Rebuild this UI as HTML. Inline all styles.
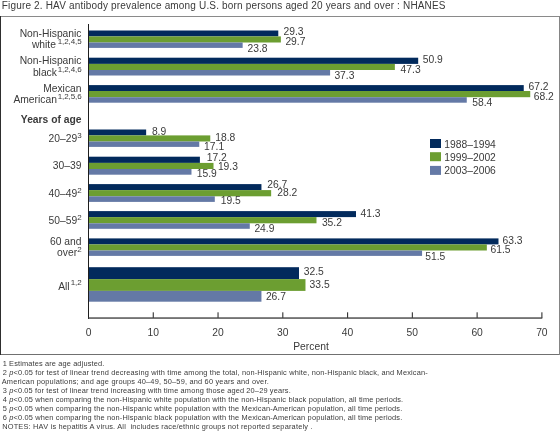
<!DOCTYPE html>
<html><head><meta charset="utf-8"><style>
html,body{margin:0;padding:0;background:#fff;}
svg{display:block;will-change:transform;}
svg text{font-family:"Liberation Sans",sans-serif;fill:#3a3a3a;}
</style></head><body>
<svg width="560" height="433" viewBox="0 0 560 433" font-size="10.3">
<rect width="560" height="433" fill="#fff"/>
<rect x="0" y="16" width="560" height="1" fill="#8a8a8a"/>
<rect x="0" y="354" width="560" height="1" fill="#707070"/>
<rect x="0" y="16" width="1" height="339" fill="#2e2e2e"/>
<rect x="559" y="16" width="1" height="339" fill="#858585"/>
<rect x="89" y="30.50" width="189.28" height="5.90" fill="#022a5c"/>
<rect x="89" y="36.40" width="191.87" height="6.10" fill="#6c9e31"/>
<rect x="89" y="42.50" width="153.65" height="5.40" fill="#6479a6"/>
<rect x="89" y="57.70" width="329.18" height="6.20" fill="#022a5c"/>
<rect x="89" y="63.90" width="305.86" height="6.10" fill="#6c9e31"/>
<rect x="89" y="70.00" width="241.09" height="5.50" fill="#6479a6"/>
<rect x="89" y="85.10" width="434.75" height="5.90" fill="#022a5c"/>
<rect x="89" y="91.00" width="441.23" height="6.20" fill="#6c9e31"/>
<rect x="89" y="97.20" width="377.76" height="5.50" fill="#6479a6"/>
<rect x="89" y="129.50" width="57.15" height="5.90" fill="#022a5c"/>
<rect x="89" y="135.40" width="121.27" height="6.10" fill="#6c9e31"/>
<rect x="89" y="141.50" width="110.26" height="5.40" fill="#6479a6"/>
<rect x="89" y="156.70" width="110.90" height="6.20" fill="#022a5c"/>
<rect x="89" y="162.90" width="124.51" height="6.10" fill="#6c9e31"/>
<rect x="89" y="169.00" width="102.48" height="5.70" fill="#6479a6"/>
<rect x="89" y="184.10" width="172.44" height="6.00" fill="#022a5c"/>
<rect x="89" y="190.10" width="182.15" height="6.20" fill="#6c9e31"/>
<rect x="89" y="196.30" width="125.80" height="5.60" fill="#6479a6"/>
<rect x="89" y="211.10" width="267.00" height="6.00" fill="#022a5c"/>
<rect x="89" y="217.10" width="227.49" height="6.20" fill="#6c9e31"/>
<rect x="89" y="223.30" width="160.78" height="5.50" fill="#6479a6"/>
<rect x="89" y="238.40" width="409.49" height="6.00" fill="#022a5c"/>
<rect x="89" y="244.40" width="397.84" height="6.10" fill="#6c9e31"/>
<rect x="89" y="250.50" width="333.07" height="5.40" fill="#6479a6"/>
<rect x="89" y="267.20" width="210.00" height="11.90" fill="#022a5c"/>
<rect x="89" y="279.10" width="216.48" height="11.80" fill="#6c9e31"/>
<rect x="89" y="290.90" width="172.44" height="10.80" fill="#6479a6"/>
<text x="283.50" y="34.80">29.3</text>
<text x="285.40" y="44.80">29.7</text>
<text x="247.50" y="51.60">23.8</text>
<text x="422.80" y="63.20">50.9</text>
<text x="400.60" y="72.70">47.3</text>
<text x="334.40" y="78.70">37.3</text>
<text x="528.50" y="89.50">67.2</text>
<text x="533.80" y="99.90">68.2</text>
<text x="472.20" y="106.30">58.4</text>
<text x="151.90" y="134.70">8.9</text>
<text x="215.30" y="140.60">18.8</text>
<text x="204.10" y="150.40">17.1</text>
<text x="206.70" y="161.20">17.2</text>
<text x="217.90" y="170.20">19.3</text>
<text x="196.70" y="176.80">15.9</text>
<text x="267.30" y="188.10">26.7</text>
<text x="277.30" y="196.00">28.2</text>
<text x="220.70" y="204.30">19.5</text>
<text x="360.50" y="217.30">41.3</text>
<text x="321.90" y="226.30">35.2</text>
<text x="254.40" y="231.60">24.9</text>
<text x="502.50" y="243.60">63.3</text>
<text x="490.50" y="253.20">61.5</text>
<text x="425.30" y="260.00">51.5</text>
<text x="303.70" y="275.40">32.5</text>
<text x="309.60" y="287.90">33.5</text>
<text x="265.90" y="299.50">26.7</text>
<rect x="88" y="24" width="1" height="295" fill="#1e1e1e"/>
<rect x="88" y="317.4" width="454.3" height="1.3" fill="#383838"/>
<rect x="152.72" y="312.3" width="1.1" height="5.6" fill="#333"/>
<rect x="217.49" y="312.3" width="1.1" height="5.6" fill="#333"/>
<rect x="282.26" y="312.3" width="1.1" height="5.6" fill="#333"/>
<rect x="347.03" y="312.3" width="1.1" height="5.6" fill="#333"/>
<rect x="411.80" y="312.3" width="1.1" height="5.6" fill="#333"/>
<rect x="476.57" y="312.3" width="1.1" height="5.6" fill="#333"/>
<rect x="541.34" y="312.3" width="1.1" height="5.6" fill="#333"/>
<text x="88.50" y="336" text-anchor="middle">0</text>
<text x="153.27" y="336" text-anchor="middle">10</text>
<text x="218.04" y="336" text-anchor="middle">20</text>
<text x="282.81" y="336" text-anchor="middle">30</text>
<text x="347.58" y="336" text-anchor="middle">40</text>
<text x="412.35" y="336" text-anchor="middle">50</text>
<text x="477.12" y="336" text-anchor="middle">60</text>
<text x="541.89" y="336" text-anchor="middle">70</text>
<text x="311" y="349.6" text-anchor="middle">Percent</text>
<text x="81.5" y="36.7" text-anchor="end">Non-Hispanic</text>
<text x="81.5" y="47.7" text-anchor="end">white<tspan font-size="8" dx="1.8" dy="-4.2" letter-spacing="-0.1">1,2,4,5</tspan></text>
<text x="81.5" y="64.1" text-anchor="end">Non-Hispanic</text>
<text x="81.5" y="75.7" text-anchor="end">black<tspan font-size="8" dx="0.8" dy="-4.2" letter-spacing="-0.1">1,2,4,6</tspan></text>
<text x="81.5" y="91.5" text-anchor="end">Mexican</text>
<text x="81.5" y="102.7" text-anchor="end">American<tspan font-size="8" dx="0.8" dy="-4.2" letter-spacing="-0.1">1,2,5,6</tspan></text>
<text x="81.5" y="142.0" text-anchor="end">20–29<tspan font-size="8" dx="0" dy="-4.2" letter-spacing="-0.1">3</tspan></text>
<text x="81.5" y="169.2" text-anchor="end">30–39</text>
<text x="81.5" y="196.8" text-anchor="end">40–49<tspan font-size="8" dx="0" dy="-4.2" letter-spacing="-0.1">2</tspan></text>
<text x="81.5" y="224.4" text-anchor="end">50–59<tspan font-size="8" dx="0" dy="-4.2" letter-spacing="-0.1">2</tspan></text>
<text x="81.5" y="244.9" text-anchor="end">60 and</text>
<text x="81.5" y="256.0" text-anchor="end">over<tspan font-size="8" dx="0" dy="-4.2" letter-spacing="-0.1">2</tspan></text>
<text x="81.5" y="289.5" text-anchor="end">All<tspan font-size="8" dx="1.0" dy="-4.2" letter-spacing="-0.1">1,2</tspan></text>
<text x="81.5" y="122.5" text-anchor="end" font-weight="bold">Years of age</text>
<rect x="430" y="139.00" width="11" height="9" fill="#022a5c"/>
<text x="444.3" y="147.7">1988–1994</text>
<rect x="430" y="152.20" width="11" height="9" fill="#6c9e31"/>
<text x="444.3" y="161.0">1999–2002</text>
<rect x="430" y="165.90" width="11" height="9" fill="#6479a6"/>
<text x="444.3" y="174.2">2003–2006</text>
<text x="1.8" y="9.4" font-size="10" letter-spacing="0.168">Figure 2. HAV antibody prevalence among U.S. born persons aged 20 years and over : NHANES</text>
<text x="2.7" y="365.5" font-size="7.4" xml:space="preserve" letter-spacing="0.1328">1 Estimates are age adjusted.</text>
<text x="2.7" y="374.5" font-size="7.4" xml:space="preserve" letter-spacing="0.1637">2 <tspan font-style='italic'>p</tspan>&lt;0.05 for test of linear trend decreasing with time among the total, non-Hispanic white, non-Hispanic black, and Mexican-</text>
<text x="1.7" y="383.5" font-size="7.4" xml:space="preserve" letter-spacing="0.1929">American populations; and age groups 40–49, 50–59, and 60 years and over.</text>
<text x="2.7" y="392.5" font-size="7.4" xml:space="preserve" letter-spacing="0.1459">3 <tspan font-style='italic'>p</tspan>&lt;0.05 for test of linear trend increasing with time among those aged 20–29 years.</text>
<text x="2.7" y="401.5" font-size="7.4" xml:space="preserve" letter-spacing="0.1588">4 <tspan font-style='italic'>p</tspan>&lt;0.05 when comparing the non-Hispanic white population with the non-Hispanic black population, all time periods.</text>
<text x="2.7" y="410.5" font-size="7.4" xml:space="preserve" letter-spacing="0.1648">5 <tspan font-style='italic'>p</tspan>&lt;0.05 when comparing the non-Hispanic white population with the Mexican-American population, all time periods.</text>
<text x="2.7" y="419.5" font-size="7.4" xml:space="preserve" letter-spacing="0.1648">6 <tspan font-style='italic'>p</tspan>&lt;0.05 when comparing the non-Hispanic black population with the Mexican-American population, all time periods.</text>
<text x="2.2" y="428.5" font-size="7.4" xml:space="preserve" letter-spacing="0.1903">NOTES: HAV is hepatitis A virus. All  includes race/ethnic groups not reported separately .</text>
</svg>
</body></html>
